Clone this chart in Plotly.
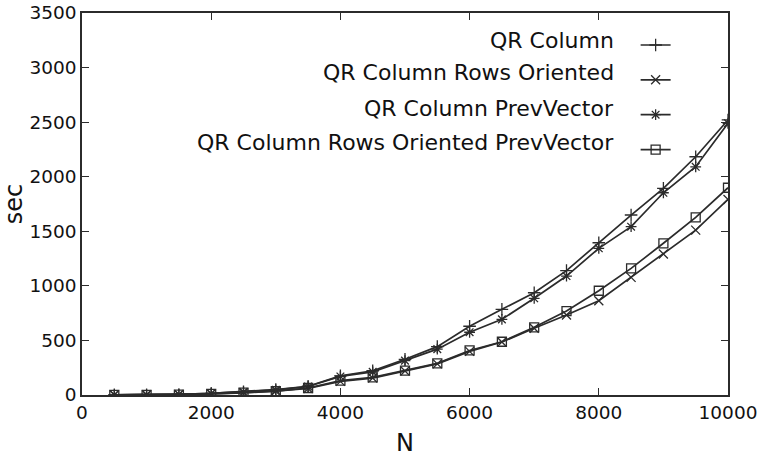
import plotly.graph_objects as go

N = [500, 1000, 1500, 2000, 2500, 3000, 3500, 4000, 4500, 5000,
     5500, 6000, 6500, 7000, 7500, 8000, 8500, 9000, 9500, 10000]

qr_column = [1, 2, 5, 15, 30, 50, 80, 175, 222, 327,
             443, 630, 785, 937, 1140, 1395, 1649, 1893, 2183, 2520]
qr_rows = [1, 2, 4, 10, 20, 35, 60, 125, 155, 220,
           285, 400, 485, 611, 733, 864, 1078, 1292, 1511, 1792]
qr_prev = [1, 2, 5, 14, 28, 47, 78, 170, 212, 315,
           420, 575, 693, 886, 1090, 1344, 1542, 1853, 2091, 2490]
qr_rows_prev = [1, 2, 4, 10, 21, 36, 64, 131, 162, 223,
                290, 408, 488, 620, 769, 955, 1160, 1390, 1628, 1899]

names = ["QR Column", "QR Column Rows Oriented", "QR Column PrevVector",
         "QR Column Rows Oriented PrevVector"]
series = [qr_column, qr_rows, qr_prev, qr_rows_prev]
symbols = ["cross-thin", "x-thin", "asterisk", "square-open"]

x_ticks = [0, 2000, 4000, 6000, 8000, 10000]
y_ticks = [0, 500, 1000, 1500, 2000, 2500, 3000, 3500]

LC = "#2b2b2b"
fig = go.Figure()
for name, ys, sym in zip(names, series, symbols):
    mk = dict(symbol=sym, size=9, color=LC, line=dict(color=LC, width=1.3))
    fig.add_trace(go.Scatter(x=N, y=ys, name=name, mode="lines+markers",
                             line=dict(color=LC, width=1.7), marker=mk,
                             showlegend=False))
    # legend key only (no data)
    fig.add_trace(go.Scatter(x=[None], y=[None], name="", mode="lines+markers",
                             line=dict(color=LC, width=1.7), marker=mk,
                             showlegend=True, hoverinfo="skip"))

font = "DejaVu Sans, Arial, sans-serif"
row_y = [0.929, 0.843, 0.751, 0.662]
for name, yy in zip(names, row_y):
    fig.add_annotation(x=0.8266, y=yy, xref="paper", yref="paper", text=name,
                       showarrow=False, xanchor="right", yanchor="middle",
                       font=dict(family=font, size=22, color="#111"))

axis_common = dict(showline=True, linecolor=LC, linewidth=1.5, mirror="allticks",
                   ticks="inside", ticklen=7, tickwidth=1.2, tickcolor=LC,
                   showgrid=False, zeroline=False, automargin=False)
fig.update_xaxes(range=[0, 10000], tickvals=x_ticks,
                 ticktext=[str(v) for v in x_ticks],
                 tickfont=dict(family=font, size=18.5, color="#111"),
                 title=dict(text="N", font=dict(family=font, size=24, color="#111"), standoff=12),
                 **axis_common)
fig.update_yaxes(range=[0, 3500], tickvals=y_ticks,
                 ticktext=[str(v) for v in y_ticks],
                 tickfont=dict(family=font, size=18.5, color="#111"),
                 title=dict(text="sec", font=dict(family=font, size=24, color="#111"), standoff=4),
                 **axis_common)

fig.update_layout(
    width=763, height=457,
    margin=dict(l=82, r=35, t=13, b=62, autoexpand=False),
    paper_bgcolor="white", plot_bgcolor="white",
    legend=dict(x=0.857, y=0.975, xanchor="left", yanchor="top",
                bgcolor="rgba(0,0,0,0)", font=dict(family=font, size=24.5),
                itemwidth=30, tracegroupgap=0),
    showlegend=True,
)
fig.write_html("out.html", config={"displayModeBar": False},
               post_script="document.body.style.margin='0';")
